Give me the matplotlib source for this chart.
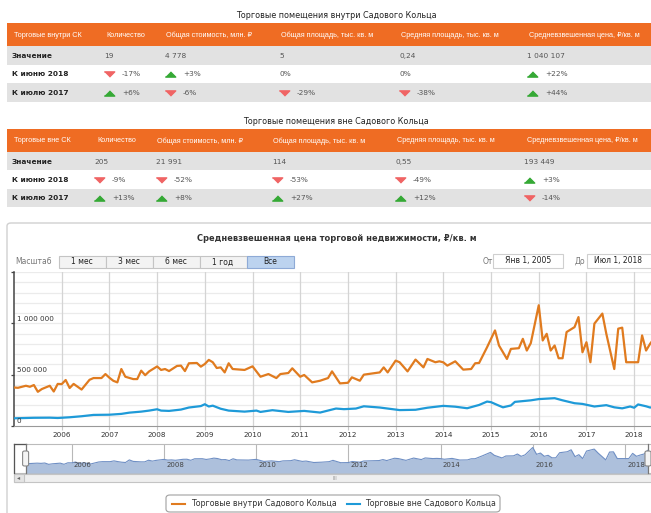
import matplotlib.pyplot as plt
from matplotlib.patches import Rectangle, FancyBboxPatch
from matplotlib.lines import Line2D
import numpy as np

plt.rcParams['font.family'] = ['DejaVu Sans', 'Noto Sans']

# ---- table data ----
inner_title = "Торговые помещения внутри Садового Кольца"
inner_header = ["Торговые внутри СК", "Количество", "Общая стоимость, млн. ₽",
                "Общая площадь, тыс. кв. м", "Средняя площадь, тыс. кв. м",
                "Средневзвешенная цена, ₽/кв. м"]
inner_value = ["19", "4 778", "5", "0,24", "1 040 107"]
inner_jun = [-17, 3, 0, 0, 22]
inner_jul = [6, -6, -29, -38, 44]

outer_title = "Торговые помещения вне Садового Кольца"
outer_header = ["Торговые вне СК", "Количество", "Общая стоимость, млн. ₽",
                "Общая площадь, тыс. кв. м", "Средняя площадь, тыс. кв. м",
                "Средневзвешенная цена, ₽/кв. м"]
outer_value = ["205", "21 991", "114", "0,55", "193 449"]
outer_jun = [-9, -52, -53, -49, 3]
outer_jul = [13, 8, 27, 12, -14]

row_labels = ["Значение", "К июню 2018", "К июлю 2017"]

# ---- chart data: months since Jan 2005, price in thousand rub / sq m ----
inner_month = [0, 1, 3, 4, 5, 6, 7, 9, 10, 11, 12, 13, 14, 15, 17, 19, 20, 22, 23, 24,
               25, 26, 27, 28, 30, 31, 32, 33, 34, 36, 37, 38, 39, 41, 42, 43, 44, 46, 47, 48,
               49, 50, 51, 52, 53, 54, 55, 58, 60, 62, 64, 66, 67, 69, 70, 72, 73, 75, 77, 79,
               80, 82, 84, 85, 87, 88, 92, 93, 94, 96, 97, 99, 101, 103, 104, 106, 107, 108, 109, 111,
               113, 115, 116, 117, 119, 121, 122, 124, 125, 127, 128, 129, 130, 132, 133, 134, 135, 136, 137, 138,
               139, 141, 142, 143, 144, 145, 146, 148, 149, 151, 152, 153, 154, 157, 158, 159, 160, 161, 162]
inner_price = [375, 372, 392, 382, 399, 333, 360, 392, 336, 410, 408, 448, 370, 410, 355, 450, 467, 467, 506, 470,
               440, 425, 555, 480, 457, 457, 539, 495, 532, 580, 546, 555, 535, 585, 588, 535, 611, 614, 578, 604,
               644, 621, 565, 571, 522, 611, 555, 546, 581, 480, 506, 467, 506, 516, 562, 480, 497, 425, 441, 467,
               532, 415, 421, 474, 441, 500, 522, 571, 522, 637, 621, 532, 647, 571, 653, 621, 630, 620, 588, 630,
               549, 555, 611, 614, 767, 931, 784, 653, 751, 758, 849, 735, 807, 1176, 833, 898, 735, 784, 660, 660,
               915, 963, 1061, 718, 816, 621, 997, 1095, 898, 555, 948, 958, 621, 621, 882, 735, 800, 852, 1040]

outer_month = [0, 3, 5, 9, 11, 14, 17, 20, 24, 27, 29, 32, 34, 36, 37, 39, 42, 44, 47, 48,
               49, 50, 52, 54, 58, 61, 62, 65, 69, 73, 77, 81, 83, 86, 88, 92, 97, 101, 104, 108,
               111, 114, 117, 119, 120, 122, 123, 125, 126, 130, 132, 136, 138, 141, 143, 146, 149, 151, 153, 155,
               156, 157, 159, 160, 161, 162]
outer_price = [75, 78, 80, 81, 78, 85, 95, 108, 110, 118, 130, 140, 150, 163, 150, 147, 160, 180, 194, 212,
               190, 198, 168, 150, 140, 150, 137, 154, 137, 147, 131, 170, 164, 170, 192, 180, 155, 158, 178, 196,
               188, 173, 205, 238, 232, 198, 182, 200, 235, 250, 262, 271, 250, 222, 215, 190, 203, 182, 172, 190,
               178, 210, 192, 180, 185, 193]

years = list(range(2006, 2019))
range_buttons = ["1 мес", "3 мес", "6 мес", "1 год", "Все"]
legend_labels = ["Торговые внутри Садового Кольца", "Торговые вне Садового Кольца"]

ORANGE = '#e07b1f'
BLUE = '#1e9ad8'
HEAD = '#ef6c23'
GRAY_ROW = '#e2e2e2'

W, H = 651, 513
fig = plt.figure(figsize=(W / 100, H / 100), dpi=100)


def fx(px):
    return px / W


def fy(py):
    return 1 - py / H


def rect(x0, y0, x1, y1, **kw):
    kw.setdefault('zorder', -1)
    fig.add_artist(Rectangle((fx(x0), fy(y1)), fx(x1) - fx(x0), fy(y0) - fy(y1),
                             transform=fig.transFigure, **kw))


def text(px, py, s, **kw):
    kw.setdefault('va', 'center')
    fig.text(fx(px), fy(py), s, **kw)


tri_up = [(-1, -0.5), (1, -0.5), (0, 0.5)]
tri_down = [(-1, 0.5), (1, 0.5), (0, -0.5)]


def change_cell(px, py, v):
    if v == 0:
        text(px, py, "0%", fontsize=5.3, color='#555')
        return
    marker, color = (tri_up, '#35a935') if v > 0 else (tri_down, '#f06464')
    fig.add_artist(Line2D([fx(px + 4.5)], [fy(py)], marker=marker, markersize=7.5,
                          color=color, transform=fig.transFigure))
    text(px + 18, py, f"{v:+d}%", fontsize=5.3, color='#555')


def draw_table(title, title_y, top, header, head_x, val_x, values, jun, jul):
    text(336, title_y, title, fontsize=5.8, ha='center', color='#222')
    rect(7, top, 660, top + 23, facecolor=HEAD, edgecolor='none')
    for hx, h in zip(head_x, header):
        text(hx, top + 12, h, fontsize=5.2, color='white',
             family=['Liberation Sans', 'DejaVu Sans'])
    r0 = top + 23
    for i in range(3):
        y0 = r0 + i * 18.4
        if i != 1:
            rect(7, y0, 660, y0 + 18.4, facecolor=GRAY_ROW, edgecolor='none')
        text(12, y0 + 9.5, row_labels[i], fontsize=5.3, fontweight='bold', color='#222')
    for j, vx in enumerate(val_x):
        text(vx, r0 + 9.5, values[j], fontsize=5.3, color='#555')
        change_cell(vx, r0 + 18.4 + 9.5, jun[j])
        change_cell(vx, r0 + 36.8 + 9.5, jul[j])


draw_table(inner_title, 16, 23.5, inner_header,
           [14, 106, 166, 281, 401, 529], [104, 165, 279, 399, 527],
           inner_value, inner_jun, inner_jul)
draw_table(outer_title, 122, 129, outer_header,
           [14, 97, 157, 273, 397, 527], [94, 156, 272, 395, 524],
           outer_value, outer_jun, outer_jul)

# ---- chart panel ----
fig.add_artist(FancyBboxPatch((fx(7), fy(530)), fx(660) - fx(7), fy(223) - fy(530),
                              boxstyle='round,pad=0,rounding_size=0.006',
                              transform=fig.transFigure, facecolor='white',
                              edgecolor='#d0d0d0', lw=1, zorder=-3))
text(337, 239, "Средневзвешенная цена торговой недвижимости, ₽/кв. м", fontsize=5.95,
     fontweight='bold', ha='center', color='#333')

# range selector
text(15, 262, "Масштаб", fontsize=5.5, color='#777')
for k, lab in enumerate(range_buttons):
    x0 = 58.5 + k * 47
    sel = k == len(range_buttons) - 1
    rect(x0, 255.5, x0 + 47, 268, facecolor='#bcd3ef' if sel else '#f3f3f3',
         edgecolor='#8eaad6' if sel else '#c4c4c4', lw=0.8)
    text(x0 + 23.5, 262, lab, fontsize=5.5, ha='center', color='#222')
text(483, 261, "От", fontsize=5.5, color='#777')
rect(493, 253.5, 563, 268, facecolor='white', edgecolor='#cfcfcf', lw=0.8)
text(528, 261, "Янв 1, 2005", fontsize=5.5, ha='center', color='#222')
text(575, 261, "До", fontsize=5.5, color='#777')
rect(587, 253.5, 665, 268, facecolor='white', edgecolor='#cfcfcf', lw=0.8)
text(594, 261, "Июл 1, 2018", fontsize=5.5, color='#222')

# ---- main plot ----
ix = 2005 + np.array(inner_month) / 12
ox = 2005 + np.array(outer_month) / 12
iv = np.array(inner_price) * 1000
ov = np.array(outer_price) * 1000

ax = fig.add_axes([fx(14), fy(426), fx(658) - fx(14), (426 - 272) / H])
ax.set_xlim(2005, 2018.5)
ax.set_ylim(0, 1.5e6)
for v in np.arange(100e3, 1.5e6 + 1, 100e3):
    ax.axhline(v, color='#ebebeb', lw=0.9, zorder=0)
for yr in years:
    ax.axvline(yr, color='#d4d4d4', lw=0.9, zorder=0)
ax.plot(ix, iv, color=ORANGE, lw=1.6, solid_joinstyle='round', zorder=3)
ax.plot(ox, ov, color=BLUE, lw=1.6, solid_joinstyle='round', zorder=3)
ax.set_yticks([0, 500e3, 1e6, 1.5e6])
ax.set_yticklabels([])
ax.tick_params(axis='y', direction='out', length=2.5, color='#444', width=0.9)
ax.set_xticks(years)
ax.set_xticklabels([str(y) for y in years], fontsize=5.2, color='#333')
ax.tick_params(axis='x', direction='out', length=3, color='#c8c8c8', pad=1.5)
for v, lab in [(0, "0"), (500e3, "500 000"), (1e6, "1 000 000")]:
    ax.text(0.004, v + 15e3, lab, transform=ax.get_yaxis_transform(), fontsize=5.2,
            color='#333', va='bottom', ha='left')
for s in ['top', 'right']:
    ax.spines[s].set_visible(False)
ax.spines['left'].set_color('#444')
ax.spines['left'].set_linewidth(1.1)
ax.spines['bottom'].set_color('#999')
ax.set_facecolor('none')

# ---- navigator ----
rect(14, 444, 665, 473, facecolor='white', edgecolor='#bbbbbb', lw=0.8)
nav = fig.add_axes([fx(25.6), fy(473), fx(648) - fx(25.6), (473 - 445) / H])
nav.set_xlim(2005, 2018.5)
nav.set_ylim(-100e3, 1.3e6)
nav.fill_between(ix, iv, -100e3, color='#adc0dc', lw=0)
nav.plot(ix, iv, color='#6f8fc4', lw=0.8)
for yr in years[::2]:
    nav.axvline(yr, color='#b8b8b8', lw=0.8, zorder=0)
    nav.text(yr + 0.05, 0.3, str(yr), transform=nav.get_xaxis_transform(), fontsize=5,
             color='#444', va='center')
nav.axis('off')
nav.set_facecolor('none')
# left mask outline and handles
fig.add_artist(Line2D([fx(14), fx(14)], [fy(444), fy(473)], color='#555', lw=0.9,
                      transform=fig.transFigure))
fig.add_artist(Line2D([fx(14), fx(25.6)], [fy(444), fy(444)], color='#555', lw=0.9,
                      transform=fig.transFigure))
for hx in [25.6, 648]:
    fig.add_artist(Line2D([fx(hx), fx(hx)], [fy(444), fy(473)], color='#777', lw=0.9,
                          transform=fig.transFigure))
    fig.add_artist(FancyBboxPatch((fx(hx - 3), fy(466)), fx(6), fy(451) - fy(466),
                                  boxstyle='round,pad=0,rounding_size=0.003',
                                  transform=fig.transFigure, facecolor='#f4f4f4',
                                  edgecolor='#888', lw=0.8, zorder=2))

# scrollbar
rect(14, 474, 665, 482, facecolor='#efefef', edgecolor='#c4c4c4', lw=0.8)
rect(14, 474, 24, 482, facecolor='#e4e4e4', edgecolor='#c4c4c4', lw=0.8)
text(19, 478, "◂", fontsize=4.5, ha='center', color='#666')
text(335, 478, "III", fontsize=4, ha='center', color='#999')

# ---- legend ----
fig.add_artist(FancyBboxPatch((fx(166), fy(512)), fx(500) - fx(166), fy(495) - fy(512),
                              boxstyle='round,pad=0,rounding_size=0.006',
                              transform=fig.transFigure, facecolor='white',
                              edgecolor='#a0a0a0', lw=0.8, zorder=-1))
for (lx, tx), col, lab in zip([(172, 191), (347, 365)], [ORANGE, BLUE], legend_labels):
    fig.add_artist(Line2D([fx(lx), fx(lx + 13)], [fy(503.5), fy(503.5)], color=col, lw=1.5,
                          transform=fig.transFigure))
    text(tx, 503.5, lab, fontsize=5.7, color='#333')

fig.savefig('out.png', dpi=100)
